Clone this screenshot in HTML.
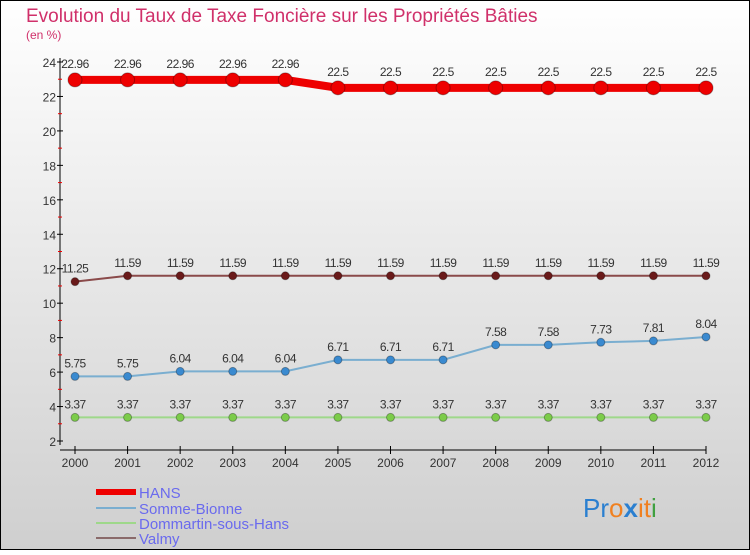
<!DOCTYPE html>
<html><head><meta charset="utf-8"><style>
body{margin:0}
#c{width:750px;height:550px;position:relative;font-family:"Liberation Sans",sans-serif}
</style></head><body>
<div id="c">
<svg id="s" width="750" height="550" xmlns="http://www.w3.org/2000/svg">
<defs><linearGradient id="bg" x1="0" y1="0" x2="0" y2="1"><stop offset="0" stop-color="#ffffff"/><stop offset="1" stop-color="#cfcfcf"/></linearGradient></defs>
<rect x="0.5" y="0.5" width="749" height="549" fill="url(#bg)" stroke="#000"/>
<text x="26" y="22" font-size="19" fill="#d0306a">Evolution du Taux de Taxe Foncière sur les Propriétés Bâties</text>
<text x="26" y="39" font-size="12" fill="#d0306a">(en %)</text>
<g id="axes"></g><g id="series"></g>
<g>
<rect x="96" y="489" width="40" height="6" fill="#e00"/>
<text x="139" y="498" font-size="15" fill="#6a6aee">HANS</text>
<rect x="96" y="507" width="40" height="2" fill="#7aaed0"/>
<text x="139" y="514" font-size="15" fill="#6a6aee">Somme-Bionne</text>
<rect x="96" y="522" width="40" height="2" fill="#9ed88a"/>
<text x="139" y="529" font-size="15" fill="#6a6aee">Dommartin-sous-Hans</text>
<rect x="96" y="537" width="40" height="2" fill="#8a6a6a"/>
<text x="139" y="544" font-size="15" fill="#6a6aee">Valmy</text>
</g>
<text x="583" y="517" font-size="26"><tspan fill="#2a7fd0">Pr</tspan><tspan fill="#f08020">o</tspan><tspan fill="#2a7fd0" font-weight="bold">x</tspan><tspan fill="#f08020">i</tspan><tspan fill="#f08020">t</tspan><tspan fill="#40a040">i</tspan></text>
</svg></div>
<script>
const years=[2000,2001,2002,2003,2004,2005,2006,2007,2008,2009,2010,2011,2012];
const hans=[22.96,22.96,22.96,22.96,22.96,22.5,22.5,22.5,22.5,22.5,22.5,22.5,22.5];
const somme=[5.75,5.75,6.04,6.04,6.04,6.71,6.71,6.71,7.58,7.58,7.73,7.81,8.04];
const dommartin=[3.37,3.37,3.37,3.37,3.37,3.37,3.37,3.37,3.37,3.37,3.37,3.37,3.37];
const valmy=[11.25,11.59,11.59,11.59,11.59,11.59,11.59,11.59,11.59,11.59,11.59,11.59,11.59];
const yTicks=[2,4,6,8,10,12,14,16,18,20,22,24];
const NS="http://www.w3.org/2000/svg";
const X=i=>75+i*(706-75)/(years.length-1);
const Y=v=>441-(v-2)*(441-62)/22;
function mk(t,a,p){const e=document.createElementNS(NS,t);for(const k in a)e.setAttribute(k,a[k]);p.appendChild(e);return e;}
const ax=document.getElementById('axes'),sg=document.getElementById('series');
let l=mk('line',{x1:60,y1:58,x2:60,y2:445,stroke:'#000'},ax);


l=mk('line',{x1:60,y1:450,x2:706,y2:450,stroke:'#000'},ax);


yTicks.forEach(v=>{
 mk('line',{x1:57,y1:Y(v),x2:63,y2:Y(v),stroke:'#000'},ax);
 if(v<24)mk('line',{x1:58,y1:Y(v+1),x2:62,y2:Y(v+1),stroke:'#e00'},ax);
 const t=mk('text',{x:56,y:Y(v)+5,'font-size':12,'text-anchor':'end',fill:'#333'},ax);t.textContent=v;
 
 
});
years.forEach((y,i)=>{
 mk('line',{x1:X(i),y1:446,x2:X(i),y2:454,stroke:'#000'},ax);
 const t=mk('text',{x:X(i),y:467,'font-size':12,'text-anchor':'middle',fill:'#333'},ax);t.textContent=y;
 
 
});
function series(d,name,col,w,r,fill){
 const g=mk('g',{},sg);
 
 
 mk('polyline',{points:d.map((v,i)=>X(i)+','+Y(v)).join(' '),fill:'none',stroke:col,'stroke-width':w},g);
 d.forEach((v,i)=>{
  const c=mk('circle',{cx:X(i),cy:Y(v),r:r,fill:fill,stroke:'rgba(0,0,0,0.3)'},g);
  
  
  const t=mk('text',{x:X(i),y:Y(v)-r-5,'font-size':12,'text-anchor':'middle',fill:'#333','letter-spacing':'-0.5'},g);t.textContent=v;
  
  
 });
}
series(dommartin,'dommartin','#9ed88a',2,4,'#7ccc4a');
series(somme,'somme-bionne','#7aaed0',2,4,'#3a8ad0');
series(valmy,'valmy','#8a4a4a',2,4,'#6a1a1a');
series(hans,'hans','#e00',8,7,'#e00');
</script>
</body></html>
